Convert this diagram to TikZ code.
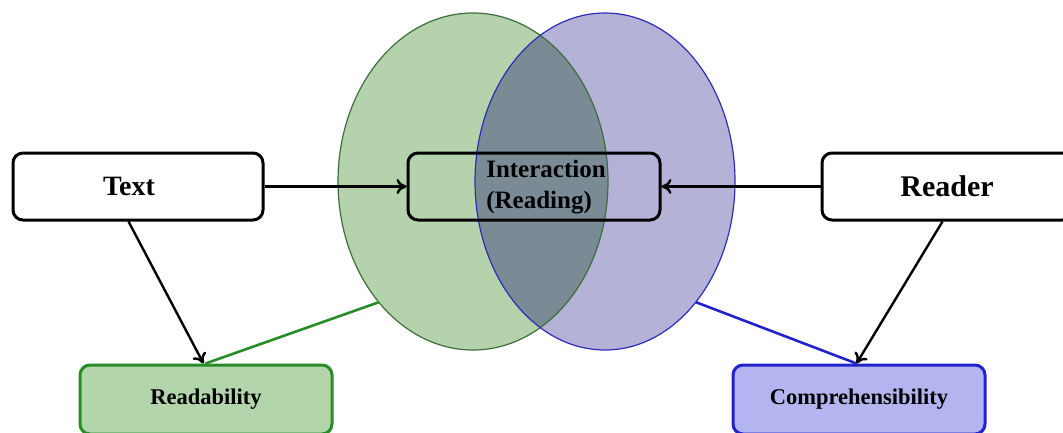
\documentclass[tikz,border=0pt]{standalone}
\usepackage{fontspec}
\setmainfont{Liberation Serif}
\usetikzlibrary{arrows.meta,shapes.geometric}
\definecolor{gfill}{RGB}{180,211,172}
\definecolor{bfill}{RGB}{181,178,215}
\definecolor{ovl}{RGB}{122,139,150}
\definecolor{gedge}{RGB}{60,110,60}
\definecolor{bedge}{RGB}{45,45,185}
\definecolor{gline}{RGB}{40,140,40}
\definecolor{bline}{RGB}{35,35,205}
\definecolor{rdfill}{RGB}{179,213,172}
\definecolor{cpfill}{RGB}{180,180,240}
\tikzset{
  box/.style={draw=black, line width=3pt, rounded corners=10pt, fill=white, minimum width=250pt, minimum height=67pt, inner sep=0pt},
  bigtxt/.style={font=\fontsize{28}{30}\selectfont\bfseries},
  smalltxt/.style={font=\fontsize{22.5}{25}\selectfont\bfseries},
  conn/.style={line width=2.4pt, draw=black, -{To[length=10pt,width=15pt]}},
  venn/.style={ellipse, inner sep=0pt, minimum height=337pt}
}
\begin{document}
\begin{tikzpicture}[x=1pt,y=-1pt]
\useasboundingbox (0,0) rectangle (1063,432);
\clip (0,0) rectangle (1063,432);
% Venn ellipses
\node[venn, fill=gfill, minimum width=270pt] (ge) at (473,181.5) {};
\node[venn, fill=bfill, minimum width=260pt] (be) at (605,181.5) {};
\begin{scope}
  \clip (473,181.5) ellipse [x radius=135, y radius=168.5];
  \fill[ovl] (605,181.5) ellipse [x radius=130, y radius=168.5];
\end{scope}
\draw[gedge, line width=1.2pt] (473,181.5) ellipse [x radius=135, y radius=168.5];
\draw[bedge, line width=1.2pt] (605,181.5) ellipse [x radius=130, y radius=168.5];
% boxes
\node[box, bigtxt] (txt) at (138,186.5) {\hspace*{-18pt}Text};
\node[box, font=\fontsize{30}{32}\selectfont\bfseries] (rdr) at (947,186.5) {Reader};
\node[box, fill=none, minimum width=252pt] (inter) at (534,186.5) {};
\node[font=\fontsize{25}{31}\selectfont\bfseries, align=left, inner sep=0pt] (interlbl) at (546,187) {Interaction\\(Reading)};
\node[box, smalltxt, draw=gline, fill=rdfill, minimum width=252pt, minimum height=69pt] (rd) at (206,399.5) {Readability};
\node[box, smalltxt, draw=bline, fill=cpfill, minimum width=252pt, minimum height=69pt] (cp) at (859,399.5) {Comprehensibility};
% connectors
\draw[conn] (txt.east) -- (inter.west);
\draw[conn] (rdr.west) -- (inter.east);
\draw[gline, line width=2.6pt] (ge.232) -- ([xshift=127pt]rd.north west);
\draw[bline, line width=2.6pt] (be.307) -- ([xshift=125pt]cp.north west);
\draw[conn] ([xshift=117pt]txt.south west) -- ([xshift=125pt]rd.north west);
\draw[conn] ([xshift=122pt]rdr.south west) -- ([xshift=125pt]cp.north west);
\end{tikzpicture}
\end{document}
